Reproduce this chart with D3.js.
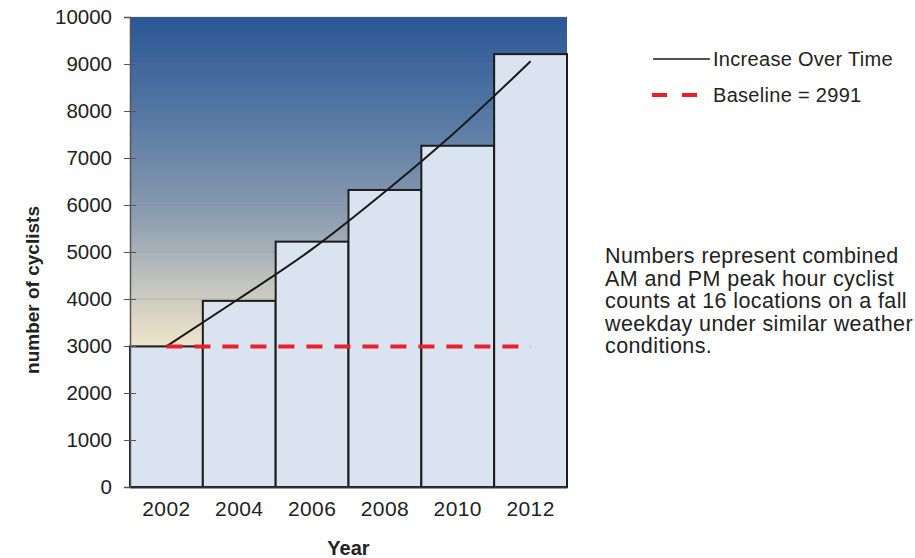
<!DOCTYPE html>
<html>
<head>
<meta charset="utf-8">
<script src="https://cdn.jsdelivr.net/npm/d3@7"></script>
<style>
  body { margin: 0; background: #fff; }
  text { font-family: "Liberation Sans", Arial, sans-serif; fill: #222; }
</style>
</head>
<body>
<div id="chart"></div>
<script>
var years = ["2002", "2004", "2006", "2008", "2010", "2012"];
var cyclists = [2991, 3960, 5220, 6320, 7260, 9210];
var trendValues = [2991, 4010, 5060, 6280, 7600, 9060];
var baseline = 2991;
var yTicks = [0, 1000, 2000, 3000, 4000, 5000, 6000, 7000, 8000, 9000, 10000];
var noteLines = [
  "Numbers represent combined",
  "AM and PM peak hour cyclist",
  "counts at 16 locations on a fall",
  "weekday under similar weather",
  "conditions."
];

var width = 915,
  height = 558;

var plot = { left: 130, right: 567, top: 17, bottom: 487 };

var svg = d3.select("#chart").append("svg")
  .attr("width", width)
  .attr("height", height);

var x = d3.scaleBand()
  .domain(years)
  .range([plot.left, plot.right])
  .padding(0);

var y = d3.scaleLinear()
  .domain([0, 10000])
  .range([plot.bottom, plot.top]);

// background gradient of the plot area
var grad = svg.append("defs").append("linearGradient")
  .attr("id", "bg")
  .attr("x1", 0).attr("y1", 0)
  .attr("x2", 0).attr("y2", 1);
grad.append("stop").attr("offset", "0").attr("stop-color", "#2c5795");
grad.append("stop").attr("offset", "0.22").attr("stop-color", "#577aa5");
grad.append("stop").attr("offset", "0.42").attr("stop-color", "#8b9cb0");
grad.append("stop").attr("offset", "0.57").attr("stop-color", "#c3c5bf");
grad.append("stop").attr("offset", "0.68").attr("stop-color", "#e9e0c9");
grad.append("stop").attr("offset", "0.74").attr("stop-color", "#f6eace");
grad.append("stop").attr("offset", "1").attr("stop-color", "#fbf3e2");

svg.append("rect")
  .attr("x", plot.left)
  .attr("y", plot.top)
  .attr("width", plot.right - plot.left)
  .attr("height", plot.bottom - plot.top)
  .attr("fill", "url(#bg)");

// faint gridlines
svg.append("g")
  .selectAll("line")
  .data(yTicks.slice(1))
  .join("line")
  .attr("x1", plot.left)
  .attr("x2", plot.right)
  .attr("y1", function(d) { return y(d); })
  .attr("y2", function(d) { return y(d); })
  .attr("stroke", "#7d8896")
  .attr("stroke-opacity", 0.3)
  .attr("stroke-width", 1);

// bars
svg.append("g")
  .selectAll("rect")
  .data(years)
  .join("rect")
  .attr("x", function(d) { return x(d); })
  .attr("y", function(d, i) { return y(cyclists[i]); })
  .attr("width", x.bandwidth())
  .attr("height", function(d, i) { return y(0) - y(cyclists[i]); })
  .attr("fill", "#dae4f0")
  .attr("stroke", "#1c1c1c")
  .attr("stroke-width", 2);

// y axis
var yAxis = d3.axisLeft(y)
  .tickValues(yTicks)
  .tickFormat(d3.format("d"))
  .tickSize(6);

var gy = svg.append("g")
  .attr("transform", "translate(" + plot.left + ",0)")
  .call(yAxis);
gy.select(".domain").attr("stroke", "#555").attr("stroke-width", 1.5);
gy.selectAll(".tick line").attr("x1", 6).attr("x2", -6).attr("stroke", "#555");
gy.selectAll(".tick text")
  .attr("x", -18)
  .style("font-size", "20.5px")
  .style("font-family", "Liberation Sans, Arial, sans-serif")
  .attr("fill", "#222");

// x axis
var xAxis = d3.axisBottom(x).tickSize(0).tickPadding(14);
var gx = svg.append("g")
  .attr("transform", "translate(0," + plot.bottom + ")")
  .call(xAxis);
gx.select(".domain").attr("stroke", "#333").attr("stroke-width", 2);
gx.selectAll(".tick text")
  .style("font-size", "21px")
  .style("letter-spacing", "0.4px")
  .style("font-family", "Liberation Sans, Arial, sans-serif")
  .attr("fill", "#222");

// trend curve
var trend = d3.line()
  .x(function(d, i) { return x(years[i]) + x.bandwidth() / 2; })
  .y(function(d) { return y(d); })
  .curve(d3.curveMonotoneX);

svg.append("path")
  .datum(trendValues)
  .attr("d", trend)
  .attr("fill", "none")
  .attr("stroke", "#1a1a1a")
  .attr("stroke-width", 2);

// baseline
svg.append("line")
  .attr("x1", x(years[0]) + x.bandwidth() / 2)
  .attr("x2", x(years[years.length - 1]) + x.bandwidth() / 2)
  .attr("y1", y(baseline))
  .attr("y2", y(baseline))
  .attr("stroke", "#e8202a")
  .attr("stroke-width", 4)
  .attr("stroke-dasharray", "16,12");

// axis titles
svg.append("text")
  .attr("x", (plot.left + plot.right) / 2)
  .attr("y", 555)
  .attr("text-anchor", "middle")
  .style("font-size", "20px")
  .style("font-weight", "bold")
  .text("Year");

svg.append("text")
  .attr("transform", "translate(39,290) rotate(-90)")
  .attr("text-anchor", "middle")
  .style("font-size", "19px")
  .style("font-weight", "bold")
  .text("number of cyclists");

// legend
var legend = svg.append("g");
legend.append("line")
  .attr("x1", 653).attr("x2", 710)
  .attr("y1", 59).attr("y2", 59)
  .attr("stroke", "#1a1a1a")
  .attr("stroke-width", 1.5);
legend.append("text")
  .attr("x", 713).attr("y", 66)
  .style("font-size", "20px")
  .style("letter-spacing", "0.3px")
  .text("Increase Over Time");
legend.append("line")
  .attr("x1", 652).attr("x2", 697)
  .attr("y1", 95).attr("y2", 95)
  .attr("stroke", "#e8202a")
  .attr("stroke-width", 4)
  .attr("stroke-dasharray", "15,15");
legend.append("text")
  .attr("x", 713).attr("y", 102)
  .style("font-size", "20px")
  .style("letter-spacing", "0.3px")
  .text("Baseline = 2991");

// note
svg.append("text")
  .attr("x", 605)
  .attr("y", 263)
  .style("font-size", "21.5px")
  .style("letter-spacing", "0.4px")
  .selectAll("tspan")
  .data(noteLines)
  .join("tspan")
  .attr("x", 605)
  .attr("dy", function(d, i) { return i === 0 ? 0 : 22.5; })
  .text(function(d) { return d; });
</script>
</body>
</html>
